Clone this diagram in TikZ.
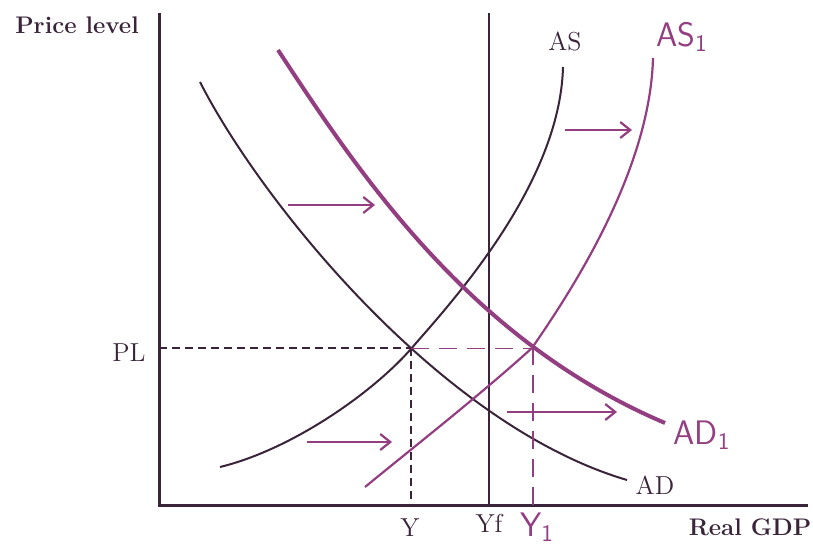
\documentclass[tikz,border=0pt]{standalone}
\usetikzlibrary{arrows.meta,intersections}
\definecolor{lineink}{RGB}{58,36,58}
\definecolor{penink}{RGB}{146,62,128}
\begin{document}
\begin{tikzpicture}[x=0.5pt,y=-0.5pt,
  axis/.style={lineink,line width=1.5pt},
  curve/.style={lineink,line width=1pt},
  pen/.style={penink,line width=1.1pt},
  shiftarrow/.style={penink,line width=1.1pt,-{Straight Barb[length=5pt,width=8pt]}},
  guide/.style={lineink,line width=1pt,dash pattern=on 4pt off 2.5pt},
  penguide/.style={penink,line width=0.9pt,dash pattern=on 9pt off 5pt},
  lbl/.style={font=\fontsize{13}{15}\selectfont,text=lineink,inner sep=0pt},
  axislbl/.style={font=\bfseries\fontsize{12}{14}\selectfont,text=lineink,inner sep=0pt},
  hand/.style={font=\sffamily\fontsize{17}{19}\selectfont,text=penink,inner sep=0pt}]
  \useasboundingbox (0,0) rectangle (813,550);
  % axes and full employment line
  \coordinate (O) at (159,505);
  \coordinate (ytop) at (159,13);
  \coordinate (xend) at (808,505);
  \coordinate (yftop) at (489,13);
  \coordinate (yfbot) at (489,505);
  \draw[axis] (ytop) -- (O) -- (xend);
  \draw[curve] (yftop) -- (yfbot);
  % original curves
  \coordinate (as-a) at (220,467);
  \coordinate (as-m) at (410,350);
  \coordinate (as-b) at (563,67);
  \coordinate (ad-a) at (200,82);
  \coordinate (ad-b) at (627,480);
  \draw[curve,name path=as] (as-a) .. controls (290,450) and (370,395) .. (as-m)
    .. controls (450,304) and (560,185) .. (as-b);
  \draw[curve,name path=ad] (ad-a) .. controls (260,200) and (440,425) .. (ad-b);
  \path[name intersections={of=as and ad,by=E}];
  % shifted curves
  \coordinate (as1-a) at (365,487);
  \coordinate (as1-m) at (532,348);
  \coordinate (as1-b) at (653,58);
  \coordinate (ad1-a) at (278,50);
  \coordinate (ad1-b) at (665,423);
  \draw[pen,name path=as1] (as1-a) .. controls (420,442) and (480,395) .. (as1-m)
    .. controls (565,300) and (650,175) .. (as1-b);
  \draw[pen,line width=2pt,name path=ad1] (ad1-a) .. controls (360,175) and (470,340) .. (ad1-b);
  \path[name intersections={of=as1 and ad1,by=E1}];
  % guide lines
  \draw[guide] (E -| O) -- (E);
  \draw[guide] (E) -- (E |- O);
  \draw[penguide] (E) -- (E -| E1);
  \draw[penguide] (E1) -- (E1 |- O);
  % shift arrows
  \coordinate (s1) at (288,205);
  \coordinate (t1) at (375,205);
  \coordinate (s2) at (565,130);
  \coordinate (t2) at (632,130);
  \coordinate (s3) at (307,442);
  \coordinate (t3) at (392,442);
  \coordinate (s4) at (507,412);
  \coordinate (t4) at (617,412);
  \draw[shiftarrow] (s1) -- (t1);
  \draw[shiftarrow] (s2) -- (t2);
  \draw[shiftarrow] (s3) -- (t3);
  \draw[shiftarrow] (s4) -- (t4);
  % labels
  \node[axislbl] (pricelvl) at (77,25) {Price level};
  \node[axislbl] (realgdp) at (750,527) {Real GDP};
  \node[lbl] (aslbl) at (565,41) {AS};
  \node[lbl] (adlbl) at (655,485) {AD};
  \node[lbl] (pllbl) at (129,353) {PL};
  \node[lbl] (ylbl) at (410,528) {Y};
  \node[lbl] (yflbl) at (489,523) {Yf};
  \node[hand] (as1lbl) at (682,37) {AS\textsubscript{1}};
  \node[hand] (ad1lbl) at (702,435) {AD\textsubscript{1}};
  \node[hand] (y1lbl) at (537,527) {Y\textsubscript{1}};
\end{tikzpicture}
\end{document}
